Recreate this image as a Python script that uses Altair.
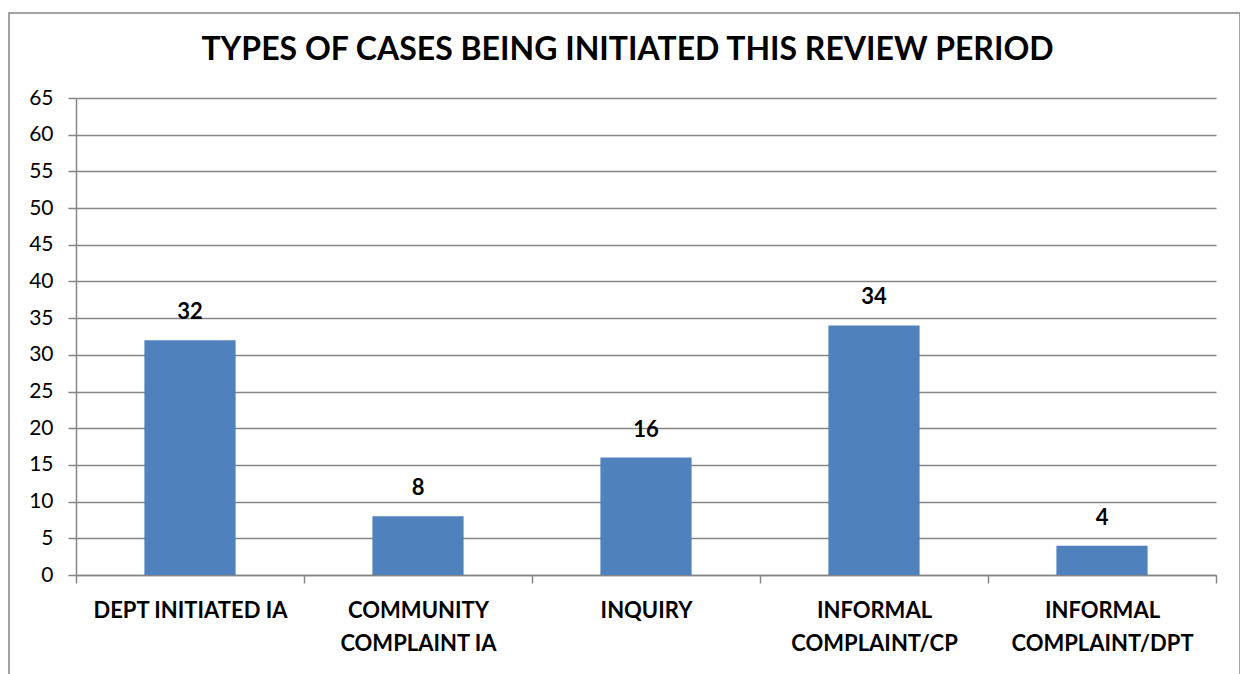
import altair as alt
import pandas as pd

categories = ["DEPT INITIATED IA", "COMMUNITY|COMPLAINT IA", "INQUIRY",
              "INFORMAL|COMPLAINT/CP", "INFORMAL|COMPLAINT/DPT"]
values = [32, 8, 16, 34, 4]
y_ticks = list(range(0, 66, 5))
title_text = "TYPES OF CASES BEING INITIATED THIS REVIEW PERIOD"

df = pd.DataFrame({"category": categories, "value": values})
FONT = "Lato"
GRAY = "#868686"
W, H = 1140, 477

x = alt.X("category:N", sort=categories, title=None,
          scale=alt.Scale(paddingInner=0, paddingOuter=0),
          axis=alt.Axis(labelExpr="split(datum.label, '|')", labelAngle=0,
                        labelFont=FONT, labelFontSize=22, labelFontWeight="bold",
                        labelColor="black", labelLineHeight=33, labelPadding=17,
                        labelBaseline="top", labelLimit=0,
                        tickBand="extent", tickSize=8, tickColor=GRAY,
                        domainColor=GRAY, tickWidth=1.5, domainWidth=1.5))
y = alt.Y("value:Q", title=None,
          scale=alt.Scale(domain=[0, 65], nice=False),
          axis=alt.Axis(values=y_ticks, labelOverlap=False, labelFont=FONT,
                        labelFontSize=21, labelColor="black", labelPadding=15,
                        tickSize=8, tickColor=GRAY, domainColor=GRAY,
                        grid=True, gridColor=GRAY, gridWidth=1.5, tickWidth=1.5,
                        domainWidth=1.5))

bars = alt.Chart(df).mark_bar(color="#4F81BD", width=alt.RelativeBandSize(0.4)).encode(x=x, y=y)
labels = alt.Chart(df).mark_text(font=FONT, fontSize=22, fontWeight="bold",
                                 baseline="bottom", dy=-16, color="black").encode(
    x=x, y=y, text="value:Q")

one = pd.DataFrame({"t": [title_text]})
frame = alt.Chart(one).mark_rect(
    fill=None, stroke=GRAY, strokeWidth=1.5, clip=False).encode(
    x=alt.value(-67), x2=alt.value(1164), y=alt.value(-85), y2=alt.value(620))
title = alt.Chart(one).mark_text(font=FONT, fontSize=32, fontWeight="bold",
                                 color="black", baseline="middle", align="center").encode(
    x=alt.value(551.5), y=alt.value(-48), text="t:N")

chart = alt.layer(frame, title, bars, labels).properties(
    width=W, height=H,
    autosize=alt.AutoSizeParams(type="none"),
    padding={"left": 68, "top": 90, "right": 24, "bottom": 99},
).configure_view(stroke=None)

chart.save("out.html", embed_options={"renderer": "svg", "actions": False})
